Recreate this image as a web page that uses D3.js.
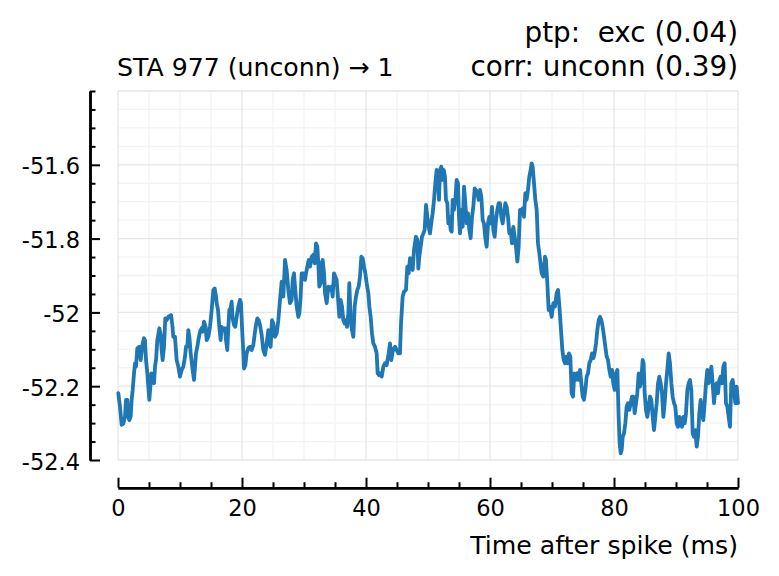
<!DOCTYPE html>
<html><head><meta charset="utf-8">
<script src="https://cdn.jsdelivr.net/npm/d3@7"></script>
<style>body{margin:0;background:#fff} svg{display:block}</style>
</head><body>
<svg id="c" width="779" height="576"></svg>
<script>
// ---- data ----
const timeMs = [
0.05,0.32,0.59,0.86,1.13,1.29,1.51,1.67,1.83,2.04,2.20,2.37,2.58,2.74,2.90,3.12,3.44,3.66,3.98,4.19,
4.35,4.52,4.73,4.89,5.05,5.22,5.38,5.59,5.81,5.97,6.13,6.34,6.67,6.88,7.04,7.20,7.42,7.63,7.85,8.12,
8.55,8.76,8.92,9.19,9.46,9.73,10.0,10.27,10.54,10.81,10.97,11.18,11.34,11.51,11.72,12.04,12.26,12.42,12.58,12.80,
12.96,13.23,13.49,13.66,13.87,14.14,14.30,14.57,14.84,15.11,15.38,15.59,15.81,15.91,16.13,16.34,16.56,16.72,16.99,17.26,
17.42,17.63,17.80,17.96,18.17,18.33,18.49,18.71,18.92,19.14,19.41,19.68,19.84,20.0,20.22,20.32,20.54,20.75,21.02,21.29,
21.56,21.83,22.10,22.26,22.47,22.69,22.90,23.17,23.44,23.71,23.98,24.25,24.41,24.62,24.84,25.05,25.32,25.59,25.86,26.13,
26.40,26.67,26.94,27.20,27.47,27.74,28.01,28.17,28.39,28.55,28.82,29.09,29.25,29.46,29.62,29.89,30.16,30.32,30.54,30.75,
30.97,31.24,31.51,31.72,31.94,32.15,32.31,32.47,32.69,32.85,33.01,33.23,33.39,33.66,33.92,34.19,34.46,34.62,34.84,35.05,
35.27,35.54,35.70,35.91,36.13,36.34,36.56,36.77,36.94,37.15,37.31,37.53,37.74,37.96,38.17,38.39,38.60,38.82,39.03,39.25,
39.46,39.68,39.89,40.11,40.38,40.54,40.75,40.97,41.18,41.45,41.72,41.88,42.10,42.26,42.53,42.80,43.06,43.33,43.66,43.87,
44.09,44.30,44.52,44.68,44.95,45.22,45.48,45.65,45.91,46.13,46.45,46.56,46.67,46.88,47.10,47.31,47.53,47.74,47.90,48.06,
48.28,48.44,48.60,48.82,49.03,49.25,49.46,49.68,49.89,50.11,50.32,50.59,50.75,50.97,51.18,51.40,51.61,51.77,51.94,52.15,
52.37,52.53,52.74,52.90,53.12,53.28,53.44,53.66,53.82,53.98,54.19,54.41,54.62,54.84,55.00,55.16,55.38,55.59,55.81,56.02,
56.24,56.45,56.67,56.88,57.10,57.31,57.53,57.74,57.96,58.17,58.39,58.60,58.82,59.03,59.25,59.46,59.68,59.89,60.11,60.32,
60.54,60.75,60.97,61.18,61.40,61.61,61.83,62.04,62.26,62.47,62.69,62.90,63.12,63.33,63.55,63.76,63.98,64.19,64.41,64.62,
64.84,65.05,65.27,65.48,65.70,65.91,66.13,66.34,66.56,66.72,66.88,67.10,67.31,67.53,67.74,67.96,68.33,68.60,68.87,69.03,
69.25,69.46,69.68,69.95,70.22,70.48,70.75,70.97,71.24,71.45,71.67,71.88,72.10,72.31,72.53,72.74,72.96,73.17,73.39,73.60,
73.82,74.09,74.30,74.52,74.73,74.95,75.16,75.38,75.59,75.81,76.02,76.24,76.45,76.67,76.88,77.10,77.31,77.53,77.74,77.96,
78.17,78.39,78.60,78.82,79.03,79.25,79.46,79.68,79.89,80.11,80.32,80.54,80.75,80.91,81.08,81.24,81.40,81.61,81.83,82.04,
82.26,82.47,82.69,82.90,83.12,83.33,83.55,83.76,83.98,84.19,84.41,84.62,84.78,84.95,85.16,85.38,85.59,85.81,86.02,86.24,
86.45,86.67,86.88,87.10,87.31,87.53,87.74,87.96,88.17,88.39,88.60,88.82,89.03,89.25,89.46,89.68,89.89,90.11,90.32,90.54,
90.75,90.97,91.18,91.40,91.61,91.83,92.04,92.26,92.47,92.69,92.90,93.12,93.33,93.55,93.76,93.98,94.19,94.41,94.62,94.84,
95.05,95.27,95.48,95.70,95.91,96.13,96.34,96.56,96.77,96.99,97.20,97.42,97.63,97.85,98.06,98.28,98.49,98.71,98.92,99.14,
99.35,99.57,99.78,100.0
];
const staMv = [
-52.219,-52.255,-52.305,-52.301,-52.283,-52.237,-52.237,-52.283,-52.292,-52.283,-52.237,-52.210,-52.165,-52.138,-52.147,-52.097,-52.093,-52.129,-52.084,-52.070,
-52.075,-52.129,-52.165,-52.201,-52.237,-52.201,-52.165,-52.170,-52.192,-52.147,-52.129,-52.075,-52.043,-52.061,-52.102,-52.129,-52.093,-52.016,-52.021,-52.012,
-52.007,-52.034,-52.066,-52.066,-52.129,-52.147,-52.174,-52.156,-52.147,-52.120,-52.093,-52.093,-52.048,-52.066,-52.111,-52.156,-52.183,-52.147,-52.111,-52.093,
-52.075,-52.052,-52.043,-52.052,-52.025,-52.039,-52.075,-52.066,-52.039,-51.993,-51.939,-51.935,-51.957,-51.975,-51.993,-52.039,-52.075,-52.039,-52.048,-52.043,
-52.075,-52.102,-52.039,-51.993,-51.989,-51.971,-52.016,-52.034,-52.039,-52.012,-51.984,-51.966,-51.975,-52.039,-52.111,-52.152,-52.143,-52.111,-52.097,-52.093,
-52.102,-52.088,-52.052,-52.034,-52.016,-52.021,-52.034,-52.061,-52.102,-52.115,-52.084,-52.048,-52.084,-52.093,-52.021,-52.030,-52.066,-52.057,-52.021,-51.966,
-51.917,-51.957,-51.858,-51.885,-51.939,-51.975,-51.966,-51.912,-51.894,-51.930,-51.984,-52.012,-52.003,-51.957,-51.894,-51.894,-51.912,-51.894,-51.876,-51.858,
-51.876,-51.849,-51.844,-51.867,-51.813,-51.822,-51.867,-51.930,-51.921,-51.867,-51.858,-51.894,-51.948,-51.975,-51.930,-51.939,-51.930,-51.957,-51.894,-51.903,
-51.912,-51.975,-52.012,-51.966,-51.984,-52.021,-52.030,-52.021,-52.039,-52.003,-51.921,-52.021,-52.048,-52.066,-51.984,-51.957,-51.939,-51.930,-51.903,-51.849,
-51.853,-51.876,-51.894,-51.921,-51.948,-51.984,-52.012,-52.057,-52.084,-52.093,-52.111,-52.165,-52.170,-52.165,-52.174,-52.147,-52.138,-52.143,-52.111,-52.084,
-52.129,-52.106,-52.097,-52.093,-52.102,-52.111,-52.111,-52.030,-51.957,-51.944,-51.939,-51.903,-51.876,-51.894,-51.853,-51.858,-51.885,-51.831,-51.813,-51.795,
-51.803,-51.881,-51.849,-51.822,-51.795,-51.786,-51.777,-51.709,-51.740,-51.768,-51.786,-51.750,-51.732,-51.695,-51.650,-51.614,-51.632,-51.695,-51.614,-51.605,
-51.641,-51.614,-51.632,-51.695,-51.704,-51.759,-51.741,-51.777,-51.781,-51.695,-51.722,-51.695,-51.641,-51.650,-51.741,-51.786,-51.722,-51.768,-51.659,-51.704,
-51.759,-51.732,-51.777,-51.799,-51.741,-51.714,-51.664,-51.668,-51.677,-51.695,-51.668,-51.686,-51.750,-51.759,-51.799,-51.822,-51.759,-51.741,-51.759,-51.714,
-51.777,-51.795,-51.750,-51.722,-51.704,-51.704,-51.741,-51.759,-51.732,-51.704,-51.714,-51.741,-51.786,-51.777,-51.813,-51.768,-51.795,-51.822,-51.862,-51.822,
-51.722,-51.731,-51.718,-51.741,-51.677,-51.695,-51.668,-51.632,-51.614,-51.596,-51.605,-51.650,-51.695,-51.722,-51.813,-51.840,-51.894,-51.903,-51.849,-51.858,
-51.921,-51.994,-51.984,-52.012,-51.975,-51.984,-51.948,-51.939,-51.994,-52.048,-52.102,-52.129,-52.138,-52.120,-52.138,-52.111,-52.120,-52.219,-52.228,-52.165,
-52.183,-52.165,-52.183,-52.156,-52.192,-52.228,-52.237,-52.210,-52.174,-52.165,-52.138,-52.129,-52.111,-52.124,-52.111,-52.084,-52.048,-52.021,-52.012,-52.021,
-52.039,-52.066,-52.093,-52.120,-52.129,-52.156,-52.174,-52.156,-52.192,-52.210,-52.165,-52.156,-52.283,-52.355,-52.382,-52.373,-52.337,-52.328,-52.301,-52.255,
-52.246,-52.264,-52.246,-52.228,-52.228,-52.273,-52.246,-52.219,-52.165,-52.201,-52.183,-52.129,-52.138,-52.219,-52.264,-52.283,-52.255,-52.228,-52.237,-52.283,
-52.319,-52.283,-52.246,-52.192,-52.174,-52.192,-52.219,-52.283,-52.246,-52.192,-52.156,-52.111,-52.138,-52.192,-52.228,-52.246,-52.255,-52.301,-52.310,-52.283,
-52.292,-52.310,-52.283,-52.301,-52.274,-52.210,-52.192,-52.183,-52.210,-52.328,-52.337,-52.319,-52.364,-52.337,-52.274,-52.237,-52.274,-52.292,-52.246,-52.192,
-52.156,-52.192,-52.174,-52.147,-52.192,-52.246,-52.210,-52.192,-52.219,-52.183,-52.174,-52.192,-52.147,-52.138,-52.246,-52.255,-52.283,-52.310,-52.192,-52.183,
-52.210,-52.246,-52.201,-52.246
];
const xMajorTicks = [0, 20, 40, 60, 80, 100];
const yMajorTicks = [-52.4, -52.2, -52, -51.8, -51.6];
const titleLeft = "STA 977 (unconn) \u2192 1";
const titleRight = ["ptp:  exc (0.04)", "corr: unconn (0.39)"];
const xLabel = "Time after spike (ms)";

// ---- layout ----
const svg = d3.select("#c");
const FONT = "DejaVu Sans";
const L = 118, R = 738, T = 91, B = 460;
const x = d3.scaleLinear().domain([0, 100]).range([L, R]);
const y = d3.scaleLinear().domain([-52.4, -51.4]).range([B, T]);

const xGrid = d3.range(0, 101, 5);
const yGrid = d3.range(0, 21).map(i => +(-52.4 + i * 0.05).toFixed(2));
const isMajX = v => v % 20 === 0;
const isMajY = v => Math.abs(Math.round(v / 0.2) * 0.2 - v) < 1e-6;

const grid = svg.append("g");
grid.selectAll("line.gx").data(xGrid.filter(v => !isMajX(v))).join("line")
  .attr("x1", d => x(d)).attr("x2", d => x(d)).attr("y1", T).attr("y2", B)
  .attr("stroke", "#f3f3f3").attr("stroke-width", 1.3);
grid.selectAll("line.gy").data(yGrid.filter(v => !isMajY(v))).join("line")
  .attr("y1", d => y(d)).attr("y2", d => y(d)).attr("x1", L).attr("x2", R)
  .attr("stroke", "#f3f3f3").attr("stroke-width", 1.3);
grid.selectAll("line.gxm").data(xGrid.filter(isMajX)).join("line")
  .attr("x1", d => x(d)).attr("x2", d => x(d)).attr("y1", T).attr("y2", B)
  .attr("stroke", "#e6e6e6").attr("stroke-width", 1.3);
grid.selectAll("line.gym").data(yGrid.filter(isMajY)).join("line")
  .attr("y1", d => y(d)).attr("y2", d => y(d)).attr("x1", L).attr("x2", R)
  .attr("stroke", "#e6e6e6").attr("stroke-width", 1.3);

// ---- trace ----
const pts = timeMs.map((t, i) => [t, staMv[i]]);
svg.append("path").datum(pts)
  .attr("fill", "none").attr("stroke", "#1f77b4").attr("stroke-width", 3.8)
  .attr("stroke-linejoin", "round").attr("stroke-linecap", "round")
  .attr("d", d3.line().x(d => x(d[0])).y(d => y(d[1])));

// ---- axes ----
const fmt = d => String(d);
function styleAxis(g) {
  g.select(".domain").attr("stroke", "#000").attr("stroke-width", 2.5);
  g.selectAll(".tick line").attr("stroke", "#000").attr("stroke-width", 2);
  g.selectAll("text").attr("font-family", FONT).attr("font-size", 22.5).attr("fill", "#000");
}
// y axis (offset left)
const yMinor = yGrid.filter(v => !yMajorTicks.some(m => Math.abs(m - v) < 1e-6));
const gy = svg.append("g").attr("transform", "translate(90,0)");
gy.append("g").call(d3.axisLeft(y).tickValues(yMinor).tickSize(-5.5).tickSizeOuter(0).tickFormat(""))
  .call(styleAxis);
gy.append("g").call(d3.axisLeft(y).tickValues(yMajorTicks).tickSize(-10).tickSizeOuter(0).tickPadding(10).tickFormat(fmt))
  .call(styleAxis)
  .call(g => g.selectAll("text").attr("dy", "0.4em"));
// x axis (offset below)
const xMinor = xGrid.filter(v => !xMajorTicks.includes(v));
const gx = svg.append("g").attr("transform", "translate(0,487.7)");
gx.append("g").call(d3.axisBottom(x).tickValues(xMinor).tickSize(-5.5).tickSizeOuter(0).tickFormat(""))
  .call(styleAxis);
gx.append("g").call(d3.axisBottom(x).tickValues(xMajorTicks).tickSize(-10).tickSizeOuter(0).tickPadding(12.5).tickFormat(fmt))
  .call(styleAxis);

// ---- texts ----
svg.append("text").attr("x", 738).attr("y", 554).attr("text-anchor", "end")
  .attr("font-family", FONT).attr("font-size", 25.2).text(xLabel);
svg.append("text").attr("x", 117).attr("y", 75.5)
  .attr("font-family", FONT).attr("font-size", 25.2).text(titleLeft);
svg.selectAll("text.tr").data(titleRight).join("text")
  .attr("x", 738).attr("y", (d, i) => 42 + i * 33.5).attr("text-anchor", "end")
  .style("white-space", "pre")
  .attr("font-family", FONT).attr("font-size", 27.8).text(d => d);
</script>
</body></html>
